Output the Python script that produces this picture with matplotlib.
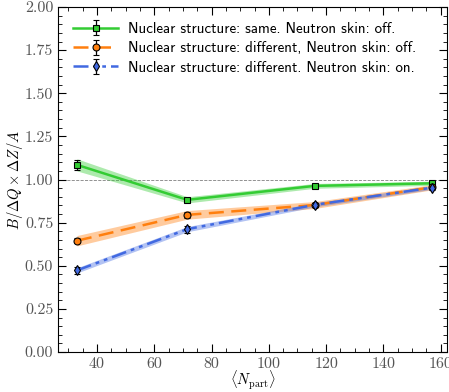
import numpy as np
import matplotlib
matplotlib.use('Agg')
import matplotlib.pyplot as plt
from matplotlib.ticker import MultipleLocator

plt.rcParams['mathtext.fontset'] = 'cm'
plt.rcParams['font.family'] = 'serif'
plt.rcParams['font.serif'] = ['cmr10', 'DejaVu Serif']
plt.rcParams['axes.formatter.use_mathtext'] = True

npart = [33, 71.5, 116, 157]

labels = ['Nuclear structure: same. Neutron skin: off.',
          'Nuclear structure: different, Neutron skin: off.',
          'Nuclear structure: different. Neutron skin: on.']

same_off = [1.085, 0.882, 0.963, 0.978]
same_off_err = [0.028, 0.012, 0.010, 0.010]
same_off_band = [0.035, 0.018, 0.014, 0.012]

diff_off = [0.645, 0.795, 0.852, 0.955]
diff_off_err = [0.016, 0.016, 0.012, 0.010]
diff_off_band = [0.03, 0.025, 0.02, 0.015]

diff_on = [0.473, 0.712, 0.853, 0.953]
diff_on_err = [0.022, 0.020, 0.012, 0.012]
diff_on_band = [0.015, 0.015, 0.012, 0.010]

series = [
    (same_off, same_off_err, same_off_band, '#33cc33', '-', 's'),
    (diff_off, diff_off_err, diff_off_band, '#ff7f0e', (0, (6, 3)), 'o'),
    (diff_on, diff_on_err, diff_on_band, '#4169e1', (0, (6, 2, 1.5, 2, 1.5, 2)), 'd'),
]

fig = plt.figure(figsize=(4.49, 3.92), dpi=100)
ax = fig.add_axes([58 / 449, 40 / 392, 389 / 449, 345 / 392])

ax.axhline(1.0, color='grey', lw=0.6, ls='--', zorder=1)

for (y, err, band, c, ls, m), lab in zip(series, labels):
    y = np.array(y)
    band = np.array(band)
    ax.fill_between(npart, y - band, y + band, color=c, alpha=0.4, lw=0, zorder=2)
    ax.errorbar(npart, y, yerr=err, color=c, ls=ls, lw=1.8, marker=m, ms=5,
                mfc=c, mec='black', mew=0.8, ecolor='black', elinewidth=0.9,
                capsize=2.5, capthick=0.9, label=lab, zorder=3)

ax.set_xlim(26.4, 162.2)
ax.set_ylim(0, 2.0)
ax.xaxis.set_major_locator(MultipleLocator(20))
ax.xaxis.set_minor_locator(MultipleLocator(5))
ax.yaxis.set_major_locator(MultipleLocator(0.25))
ax.yaxis.set_minor_locator(MultipleLocator(0.05))
ax.tick_params(which='both', direction='in', top=True, right=True, labelsize=11.5,
               labelcolor='#555555')
ax.tick_params(which='major', length=6)
ax.tick_params(which='minor', length=3)
ticks = np.arange(0, 2.01, 0.25)
ax.set_yticks(ticks)
ax.set_yticklabels(['%.2f' % v for v in ticks])
ax.set_xticks([40, 60, 80, 100, 120, 140, 160])
ax.set_xticklabels(['40', '60', '80', '100', '120', '140', '160'])

ax.set_xlabel(r'$\langle N_{\rm part}\rangle$', fontsize=10.5, labelpad=-1)
ax.set_ylabel(r'$B/\Delta Q \times \Delta Z/A$', fontsize=10.5, labelpad=0)

ax.legend(loc='upper left', frameon=False, prop={'family': 'cmss10', 'size': 10.8},
          handlelength=3.0, borderaxespad=0.6, labelspacing=0.35, handletextpad=0.7,
          numpoints=1)

fig.savefig('out.png', dpi=100)
